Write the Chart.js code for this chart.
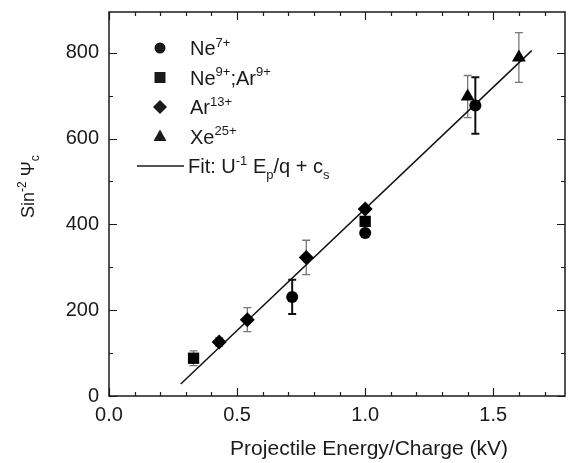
<!DOCTYPE html>
<html>
<head>
<meta charset="utf-8">
<script src="https://cdn.jsdelivr.net/npm/chart.js@4.4.0/dist/chart.umd.min.js"></script>
<style>
  html, body { margin: 0; padding: 0; background: #fff; }
  canvas { display: block; }
</style>
</head>
<body>
<canvas id="chart" width="573" height="463"></canvas>
<script>
// values
const ne7X = [0.715, 1.0, 1.43];
const ne7Y = [231, 380, 677];
const ne7Err = [40, 0, 66];

const ne9X = [0.33, 1.0];
const ne9Y = [88, 407];
const ne9Err = [17, 0];

const ar13X = [0.43, 0.54, 0.77, 1.0];
const ar13Y = [126, 178, 323, 436];
const ar13Err = [10, 28, 40, 0];

const xe25X = [1.4, 1.6];
const xe25Y = [698, 789];
const xe25Err = [49, 58];

const fitX = [0.28, 1.65];
const fitY = [28, 805];

const xMin = 0, xMax = 1.78;
const yMin = 0, yMax = 895;

const FONT = "'Liberation Sans', Arial, sans-serif";
const INK = '#1a1a1a';

function pts(xs, ys) {
  return xs.map((x, i) => ({ x: x, y: ys[i] }));
}

// rich text: parts like ['Ne', '^7+'] or '_p'
function drawRich(ctx, parts, x, y, size) {
  const small = Math.round(size * 0.65);
  parts.forEach(p => {
    let txt = p, dy = 0, fs = size;
    if (p[0] === '^') { txt = p.slice(1); dy = -size * 0.42; fs = small; }
    else if (p[0] === '_') { txt = p.slice(1); dy = size * 0.28; fs = small; }
    ctx.font = fs + 'px ' + FONT;
    ctx.fillText(txt, x, y + dy);
    x += ctx.measureText(txt).width;
  });
}

function marker(ctx, style, x, y) {
  ctx.beginPath();
  if (style === 'circle') {
    ctx.arc(x, y, 5.5, 0, Math.PI * 2);
  } else if (style === 'rect') {
    ctx.rect(x - 5.5, y - 5.5, 11, 11);
  } else if (style === 'rectRot') {
    ctx.moveTo(x - 7, y); ctx.lineTo(x, y - 7); ctx.lineTo(x + 7, y); ctx.lineTo(x, y + 7);
    ctx.closePath();
  } else if (style === 'triangle') {
    ctx.moveTo(x, y - 7); ctx.lineTo(x + 6.5, y + 4.5); ctx.lineTo(x - 6.5, y + 4.5);
    ctx.closePath();
  }
  ctx.fill();
}

const frame = {
  id: 'frame',
  beforeDatasetsDraw(chart) {
    const ctx = chart.ctx;
    const xs = chart.scales.x, ys = chart.scales.y;
    ctx.save();
    chart.data.datasets.forEach(ds => {
      if (!ds.errors) return;
      ctx.strokeStyle = ds.errColor;
      ctx.lineWidth = ds.errWidth;
      ds.data.forEach((p, i) => {
        const e = ds.errors[i];
        if (!e) return;
        const px = xs.getPixelForValue(p.x);
        const top = ys.getPixelForValue(p.y + e);
        const bot = ys.getPixelForValue(p.y - e);
        ctx.beginPath();
        ctx.moveTo(px, top); ctx.lineTo(px, bot);
        ctx.moveTo(px - 4, top); ctx.lineTo(px + 4, top);
        ctx.moveTo(px - 4, bot); ctx.lineTo(px + 4, bot);
        ctx.stroke();
      });
    });
    ctx.restore();
  },
  afterDraw(chart) {
    const ctx = chart.ctx;
    const a = chart.chartArea;
    const xs = chart.scales.x, ys = chart.scales.y;
    ctx.save();
    ctx.strokeStyle = INK;
    ctx.lineWidth = 1.5;
    ctx.strokeRect(a.left, a.top, a.right - a.left, a.bottom - a.top);

    // inward ticks on all four sides
    ctx.lineWidth = 1.2;
    ctx.beginPath();
    for (let i = 0; i <= 17; i++) {
      const px = Math.round(xs.getPixelForValue(i / 10)) + 0.5;
      const len = i % 5 === 0 ? 8 : 4;
      ctx.moveTo(px, a.bottom); ctx.lineTo(px, a.bottom - len);
      ctx.moveTo(px, a.top); ctx.lineTo(px, a.top + len);
    }
    for (let v = 0; v <= 800; v += 100) {
      const py = Math.round(ys.getPixelForValue(v)) + 0.5;
      const len = v % 200 === 0 ? 8 : 4;
      ctx.moveTo(a.left, py); ctx.lineTo(a.left + len, py);
      ctx.moveTo(a.right, py); ctx.lineTo(a.right - len, py);
    }
    ctx.stroke();

    // legend
    ctx.fillStyle = INK;
    ctx.textBaseline = 'alphabetic';
    ctx.textAlign = 'left';
    const rows = [
      ['circle', ['Ne', '^7+']],
      ['rect', ['Ne', '^9+', ';Ar', '^9+']],
      ['rectRot', ['Ar', '^13+']],
      ['triangle', ['Xe', '^25+']]
    ];
    rows.forEach((r, i) => {
      const cy = 48 + i * 29.5;
      marker(ctx, r[0], 160, cy);
      drawRich(ctx, r[1], 190, cy + 7, 20);
    });
    const fy = 166;
    ctx.lineWidth = 1.5;
    ctx.beginPath(); ctx.moveTo(137, fy); ctx.lineTo(184, fy); ctx.stroke();
    drawRich(ctx, ['Fit: U', '^-1', ' E', '_p', '/q + c', '_s'], 188, fy + 7, 20);

    // axis titles
    ctx.font = '21px ' + FONT;
    ctx.textAlign = 'center';
    ctx.fillText('Projectile Energy/Charge (kV)', 369, 455);

    ctx.textAlign = 'left';
    ctx.translate(34, 218);
    ctx.rotate(-Math.PI / 2);
    drawRich(ctx, ['Sin', '^-2', ' Ψ', '_c'], 0, 0, 18);
    ctx.restore();
  }
};

Chart.defaults.font.family = FONT;
Chart.defaults.color = INK;

new Chart(document.getElementById('chart'), {
  type: 'scatter',
  data: {
    datasets: [
      { label: 'Ne7+', data: pts(ne7X, ne7Y), errors: ne7Err, errColor: '#111', errWidth: 2,
        pointStyle: 'circle', pointRadius: 6, backgroundColor: '#000', borderColor: '#000', borderWidth: 0 },
      { label: 'Ne9+;Ar9+', data: pts(ne9X, ne9Y), errors: ne9Err, errColor: '#777', errWidth: 1.3,
        pointStyle: 'rect', pointRadius: 8, backgroundColor: '#000', borderColor: '#000', borderWidth: 0 },
      { label: 'Ar13+', data: pts(ar13X, ar13Y), errors: ar13Err, errColor: '#777', errWidth: 1.3,
        pointStyle: 'rectRot', pointRadius: 7.5, backgroundColor: '#000', borderColor: '#000', borderWidth: 0 },
      { label: 'Xe25+', data: pts(xe25X, xe25Y), errors: xe25Err, errColor: '#777', errWidth: 1.3,
        pointStyle: 'triangle', pointRadius: 8, backgroundColor: '#000', borderColor: '#000', borderWidth: 0 },
      { label: 'Fit', type: 'line', data: pts(fitX, fitY), showLine: true, pointRadius: 0,
        borderColor: '#111', borderWidth: 1.5, fill: false }
    ]
  },
  options: {
    responsive: false,
    animation: false,
    events: [],
    layout: { padding: { left: 0, top: 12, right: 5, bottom: 0 } },
    plugins: { legend: { display: false }, tooltip: { enabled: false } },
    scales: {
      x: {
        type: 'linear', min: xMin, max: xMax,
        grid: { display: false, drawTicks: false },
        border: { display: false },
        ticks: {
          stepSize: 0.5, includeBounds: false, padding: 7,
          font: { size: 20 }, color: INK, maxRotation: 0,
          callback: v => v.toFixed(1)
        },
        afterFit: s => { s.height = 67; s.paddingLeft = 0; s.paddingRight = 0; }
      },
      y: {
        type: 'linear', min: yMin, max: yMax,
        grid: { display: false, drawTicks: false },
        border: { display: false },
        ticks: {
          stepSize: 200, includeBounds: false, padding: 10,
          font: { size: 20 }, color: INK
        },
        afterFit: s => { s.width = 109; s.paddingTop = 0; s.paddingBottom = 0; }
      }
    }
  },
  plugins: [frame]
});
</script>
</body>
</html>
